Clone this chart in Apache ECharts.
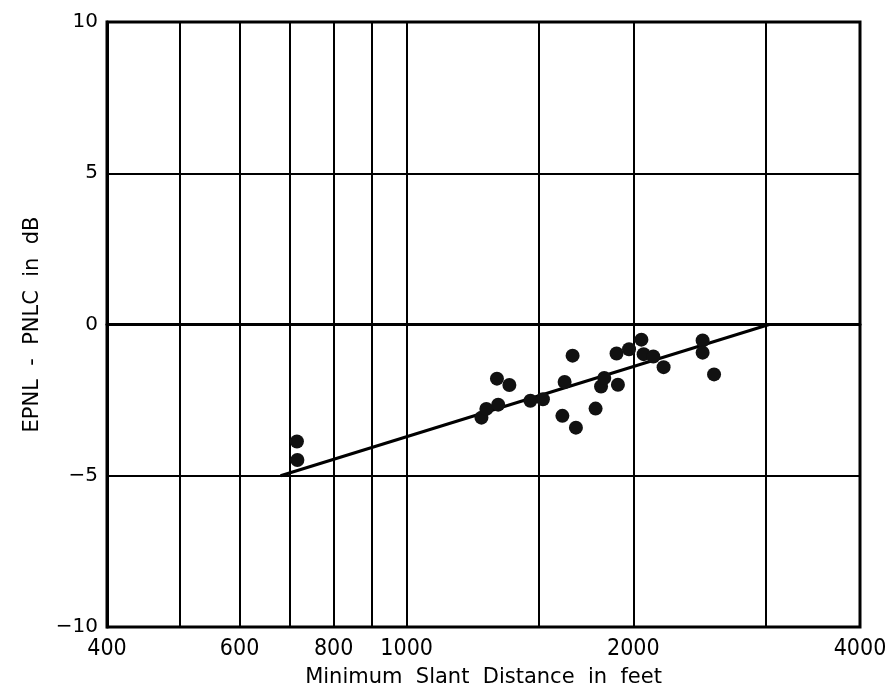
<!DOCTYPE html>
<html>
<head>
<meta charset="utf-8">
<script src="https://cdn.jsdelivr.net/npm/echarts@6/dist/echarts.min.js"></script>
<style>
html,body{margin:0;padding:0;background:#fff;}
#chart{width:885px;height:690px;}
</style>
</head>
<body>
<div id="chart"></div>
<script>
// Measured points: [minimum slant distance (ft), EPNL - PNLC (dB)]
var slantDistance = [715, 716, 1257, 1276, 1318, 1323, 1369, 1460, 1517, 1610, 1621, 1661, 1678, 1782, 1812, 1830, 1908, 1900, 1974, 2050, 2064, 2126, 2194, 2472, 2472, 2560];
var epnlMinusPnlc = [-3.87, -4.48, -3.08, -2.79, -1.79, -2.65, -2.00, -2.52, -2.47, -3.02, -1.90, -1.03, -3.41, -2.78, -2.05, -1.77, -1.99, -0.96, -0.82, -0.50, -0.98, -1.06, -1.41, -0.53, -0.93, -1.65];
// Fitted line endpoints
var fitX = [680, 3030];
var fitY = [-5, 0];
// Axis ticks
var xGridValues = [400, 500, 600, 700, 800, 900, 1000, 1500, 2000, 3000, 4000];
var xLabelValues = [400, 600, 800, 1000, 2000, 4000];
var yMin = -10, yMax = 10, yStep = 5;

var narrow = '"DejaVu Sans Condensed", "Liberation Sans Narrow", sans-serif';
var titleFont = '"DejaVu Sans", sans-serif';
var points = slantDistance.map(function (x, i) { return [x, epnlMinusPnlc[i]]; });
var fitLine = fitX.map(function (x, i) { return [x, fitY[i]]; });

var chart = echarts.init(document.getElementById('chart'), null, {renderer: 'canvas'});
chart.setOption({
  animation: false,
  backgroundColor: '#fff',
  grid: {left: 107, right: 25, top: 22, bottom: 63, outerBoundsMode: 'none', containLabel: false,
    show: true, borderColor: '#000', borderWidth: 3, backgroundColor: 'transparent'},
  xAxis: {
    type: 'log', logBase: 10, min: 400, max: 4000,
    name: 'Minimum  Slant  Distance  in  feet', nameLocation: 'middle', nameGap: 40,
    nameTextStyle: {fontFamily: titleFont, fontSize: 21, color: '#000'},
    axisLine: {show: true, lineStyle: {color: '#000', width: 3}},
    axisTick: {show: false, customValues: xGridValues},
    axisLabel: {customValues: xLabelValues, fontFamily: narrow, fontSize: 23, color: '#000', margin: 11,
      showMinLabel: true, showMaxLabel: true, hideOverlap: false,
      formatter: function (v) { return String(Math.round(v)); }},
    splitLine: {show: true, lineStyle: {color: '#000', width: 2}},
    minorSplitLine: {show: false}
  },
  yAxis: {
    type: 'value', min: yMin, max: yMax, interval: yStep,
    name: 'EPNL  -  PNLC  in  dB', nameLocation: 'middle', nameGap: 64,
    nameTextStyle: {fontFamily: titleFont, fontSize: 21, color: '#000'},
    axisLine: {show: true, lineStyle: {color: '#000', width: 3}},
    axisTick: {show: false},
    axisLabel: {fontFamily: titleFont, fontSize: 20, color: '#000', margin: 9,
      formatter: function (v) { return v < 0 ? '\u2212' + Math.abs(v) : String(v); }},
    splitLine: {show: true, lineStyle: {color: '#000', width: 2}}
  },
  series: [
    {
      type: 'line', data: fitLine, showSymbol: false, symbol: 'none',
      lineStyle: {color: '#000', width: 3}, z: 3
    },
    {
      type: 'scatter', data: points, symbol: 'circle', symbolSize: 14,
      itemStyle: {color: '#111', opacity: 1}, z: 4
    }
  ]
});
</script>
</body>
</html>
